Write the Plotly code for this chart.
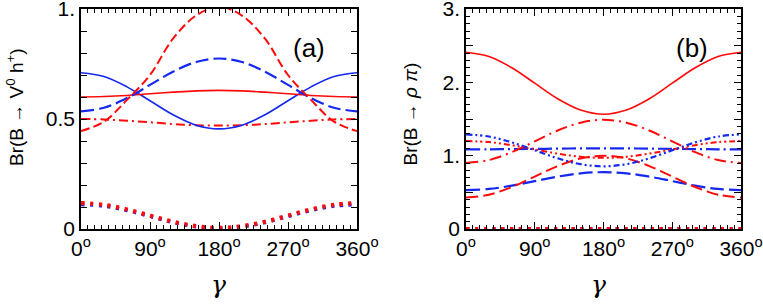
import plotly.graph_objects as go

gamma = [0, 30, 60, 90, 120, 150, 180, 210, 240, 270, 300, 330, 360]

# Panel (a): Br(B -> V0 h+)
a_red_solid = [0.600, 0.602, 0.607, 0.615, 0.622, 0.628, 0.630, 0.628, 0.622, 0.615, 0.607, 0.602, 0.600]
a_blue_solid = [0.710, 0.693, 0.646, 0.583, 0.519, 0.472, 0.455, 0.472, 0.519, 0.583, 0.646, 0.693, 0.710]
a_blue_longdash = [0.535, 0.551, 0.595, 0.655, 0.715, 0.759, 0.775, 0.759, 0.715, 0.655, 0.595, 0.551, 0.535]
a_red_dash = [0.445, 0.488, 0.587, 0.700, 0.865, 0.970, 1.010, 0.970, 0.865, 0.700, 0.587, 0.488, 0.445]
a_red_dashdot = [0.500, 0.498, 0.492, 0.485, 0.477, 0.472, 0.470, 0.472, 0.477, 0.485, 0.492, 0.498, 0.500]
a_blue_dot = [0.112, 0.105, 0.085, 0.058, 0.030, 0.011, 0.003, 0.011, 0.030, 0.058, 0.085, 0.105, 0.112]
a_red_dot = [0.118, 0.110, 0.089, 0.061, 0.033, 0.013, 0.005, 0.013, 0.033, 0.061, 0.089, 0.110, 0.118]

# Panel (b): Br(B -> rho pi)
b_red_solid = [2.410, 2.353, 2.199, 1.988, 1.776, 1.622, 1.565, 1.622, 1.776, 1.988, 2.199, 2.353, 2.410]
b_red_longdashdot = [0.900, 0.940, 1.048, 1.195, 1.343, 1.450, 1.490, 1.450, 1.343, 1.195, 1.048, 0.940, 0.900]
b_blue_dashdotdot = [1.290, 1.261, 1.181, 1.073, 0.964, 0.884, 0.855, 0.884, 0.964, 1.073, 1.181, 1.261, 1.290]
b_red_dashdotdot = [1.200, 1.185, 1.143, 1.085, 1.028, 0.985, 0.970, 0.985, 1.028, 1.085, 1.143, 1.185, 1.200]
b_blue_longdashdot = [1.085, 1.087, 1.089, 1.092, 1.096, 1.099, 1.100, 1.099, 1.096, 1.092, 1.089, 1.087, 1.085]
b_red_longdash = [0.430, 0.468, 0.573, 0.715, 0.858, 0.962, 1.000, 0.962, 0.858, 0.715, 0.573, 0.468, 0.430]
b_blue_longdash = [0.530, 0.546, 0.591, 0.653, 0.714, 0.759, 0.775, 0.759, 0.714, 0.653, 0.591, 0.546, 0.530]
b_blue_dot = [0.0] * 13
b_red_dot = [0.0] * 13

x_tickvals = [0, 90, 180, 270, 360]
x_ticktext = ["0<sup>o</sup>", "90<sup>o</sup>", "180<sup>o</sup>", "270<sup>o</sup>", "360<sup>o</sup>"]
a_y_tickvals = [0, 0.1, 0.2, 0.3, 0.4, 0.5, 0.6, 0.7, 0.8, 0.9, 1.0]
a_y_ticktext = ["0", "", "", "", "", "0.5", "", "", "", "", "1."]
b_y_tickvals = [0, 0.5, 1, 1.5, 2, 2.5, 3]
b_y_ticktext = ["0", "", "1.", "", "2.", "", "3."]

RED = "#ff0a0a"
BLUE = "#1428f0"

W, H = 763, 306


def px(x):
    return x / W


def py(y):
    return 1 - y / H


fig = go.Figure()


def add(y, color, dash, width, xa, ya):
    fig.add_trace(go.Scatter(
        x=gamma, y=y, mode="lines",
        line=dict(color=color, dash=dash, width=width, shape="spline", smoothing=1.0),
        xaxis=xa, yaxis=ya, showlegend=False, hoverinfo="skip"))


DOT = "3.2px,5.6px"
# panel a
add(a_blue_dot, BLUE, DOT, 3.8, "x", "y")
add(a_red_dot, RED, DOT, 4.2, "x", "y")
add(a_red_dashdot, RED, "9px,4px,2px,4px", 2, "x", "y")
add(a_blue_solid, BLUE, "solid", 1.6, "x", "y")
add(a_red_solid, RED, "solid", 1.6, "x", "y")
add(a_blue_longdash, BLUE, "13px,5px", 2.2, "x", "y")
add(a_red_dash, RED, "9px,4px", 2, "x", "y")

# panel b
add(b_blue_dot, BLUE, DOT, 3.8, "x2", "y2")
add(b_red_dot, RED, DOT, 4.2, "x2", "y2")
add(b_blue_longdash, BLUE, "14px,5px", 2.2, "x2", "y2")
add(b_red_longdash, RED, "12px,5px", 2, "x2", "y2")
add(b_blue_longdashdot, BLUE, "14px,4px,2px,4px", 2.2, "x2", "y2")
add(b_red_dashdotdot, RED, "6px,3px,2px,3px,2px,3px", 2, "x2", "y2")
add(b_blue_dashdotdot, BLUE, "6px,3px,2px,3px,2px,3px", 2.2, "x2", "y2")
add(b_red_longdashdot, RED, "12px,5px,2px,5px", 2, "x2", "y2")
add(b_red_solid, RED, "solid", 1.6, "x2", "y2")

FONT = "Liberation Sans, Arial, sans-serif"
TICKFONT = dict(family=FONT, size=21, color="black")

xcommon = dict(range=[0, 360], tickmode="array", tickvals=x_tickvals, ticktext=x_ticktext,
               ticks="inside", ticklen=7, tickwidth=1, tickcolor="black",
               showline=True, linecolor="black", linewidth=1.6, mirror="ticks",
               showgrid=False, zeroline=False, tickfont=TICKFONT, ticklabeloverflow="allow",
               automargin=False,
               minor=dict(dtick=9, tick0=0, ticks="inside", ticklen=4, tickwidth=1, tickcolor="black"))

ydom = [py(229), py(9)]

fig.update_layout(
    width=W, height=H, autosize=False,
    margin=dict(l=0, r=0, t=0, b=0, pad=0),
    paper_bgcolor="white", plot_bgcolor="white",
    xaxis=dict(domain=[px(81), px(357)], anchor="y", **xcommon),
    xaxis2=dict(domain=[px(466), px(741)], anchor="y2", **xcommon),
    yaxis=dict(domain=ydom, anchor="x", range=[0, 1],
               tickmode="array", tickvals=a_y_tickvals, ticktext=a_y_ticktext,
               ticks="inside", ticklen=6, tickwidth=1, tickcolor="black",
               showline=True, linecolor="black", linewidth=1.6, mirror="ticks",
               showgrid=False, zeroline=False, tickfont=TICKFONT, ticklabeloverflow="allow",
               automargin=False),
    yaxis2=dict(domain=ydom, anchor="x2", range=[0, 3],
                tickmode="array", tickvals=b_y_tickvals, ticktext=b_y_ticktext,
                ticks="inside", ticklen=7, tickwidth=1, tickcolor="black",
                showline=True, linecolor="black", linewidth=1.6, mirror="ticks",
                showgrid=False, zeroline=False, tickfont=TICKFONT, ticklabeloverflow="allow",
                automargin=False,
                minor=dict(dtick=0.1, tick0=0, ticks="inside", ticklen=4, tickwidth=1, tickcolor="black")),
)

annos = [
    dict(text="(a)", x=309, y=48, font=dict(family=FONT, size=26, color="black")),
    dict(text="(b)", x=692, y=48, font=dict(family=FONT, size=26, color="black")),
    dict(text="<i>γ</i>", x=218, y=284, font=dict(family="DejaVu Serif, serif", size=25, color="black")),
    dict(text="<i>γ</i>", x=598, y=284, font=dict(family="DejaVu Serif, serif", size=25, color="black")),
    dict(text="Br(B → V<sup>0</sup> h<sup>+</sup>)", x=15, y=168, textangle=-90, yanchor="bottom",
         font=dict(family=FONT, size=19, color="black")),
    dict(text="Br(B → <i>ρ π</i>)", x=410, y=168, textangle=-90, yanchor="bottom",
         font=dict(family=FONT, size=19, color="black")),
]
for a in annos:
    fig.add_annotation(xref="paper", yref="paper", x=px(a["x"]), y=py(a["y"]),
                       xanchor="center", yanchor=a.get("yanchor", "middle"), showarrow=False,
                       text=a["text"], font=a["font"], textangle=a.get("textangle", 0))

fig.write_html("out.html", config={"displayModeBar": False},
               post_script="document.body.style.margin='0px';")
